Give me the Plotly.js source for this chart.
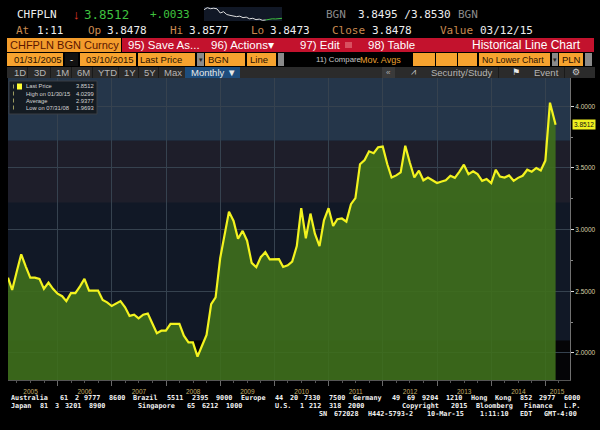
<!DOCTYPE html>
<html><head><meta charset="utf-8">
<script src="https://cdn.plot.ly/plotly-3.0.1.min.js"></script>
<style>html,body{margin:0;padding:0;background:#000;overflow:hidden}</style>
</head><body><div id="chart" style="width:600px;height:430px;"></div>
<script>
// ---------------- data ----------------
const firstYear = 2005;
const lastDate = '2015-03-10';
const prices = [
  2.61, 2.51, 2.66, 2.80, 2.70, 2.61, 2.61, 2.60, 2.52, 2.57, 2.52, 2.48,
  2.46, 2.42, 2.485, 2.485, 2.54, 2.60, 2.505, 2.505, 2.505, 2.43, 2.41, 2.38,
  2.40, 2.42, 2.37, 2.30, 2.31, 2.28, 2.31, 2.32, 2.24, 2.16, 2.18, 2.18,
  2.236, 2.236, 2.236, 2.14, 2.085, 2.085, 1.9693, 2.06, 2.146, 2.396, 2.45, 2.77,
  2.96, 3.146, 3.07, 2.926, 2.99, 2.91, 2.73, 2.695, 2.776, 2.817, 2.758, 2.762,
  2.76, 2.697, 2.71, 2.74, 2.866, 3.174, 2.93, 3.13, 2.967, 2.866, 3.076, 3.174,
  3.03, 3.084, 3.09, 3.065, 3.206, 3.255, 3.53, 3.565, 3.635, 3.62, 3.668, 3.674,
  3.53, 3.423, 3.44, 3.464, 3.68, 3.546, 3.423, 3.478, 3.40, 3.423, 3.40, 3.378,
  3.39, 3.40, 3.437, 3.42, 3.47, 3.527, 3.45, 3.473, 3.45, 3.396, 3.41, 3.378,
  3.486, 3.43, 3.423, 3.44, 3.396, 3.42, 3.437, 3.486, 3.47, 3.50, 3.48, 3.56,
  4.0299, 3.886, 3.8512
];
const yearLabels = ['2005','2006','2007','2008','2009','2010','2011','2012','2013','2014','2015'];
const yearLabelDates = ['2005-07-02','2006-07-02','2007-07-02','2008-07-02','2009-07-02','2010-07-02','2011-07-02','2012-07-02','2013-07-02','2014-07-02','2015-03-20'];
const yearStarts = ['2006-01-01','2007-01-01','2008-01-01','2009-01-01','2010-01-01','2011-01-01','2012-01-01','2013-01-01','2014-01-01','2015-01-01'];
const yTicks = [2.0, 2.5, 3.0, 3.5, 4.0];
const yMinor = [2.25, 2.75, 3.25, 3.75];
const sparkWhite = [3.8560,3.8572,3.8566,3.8569,3.8565,3.8540,3.8548,3.8531,3.8526,3.8521,3.8518,3.8521,3.8512,3.8515,3.8505,3.8508,3.8500,3.8503,3.8496,3.8498];
const sparkGreen = [3.8498,3.8503,3.8505,3.8504,3.8506,3.8508];
const legendLabels = ['Last Price','High on 01/30/15','Average','Low on 07/31/08'];
const legendValues = ['3.8512','4.0299','2.9377','1.9693'];
const lastPrice = 3.8512;

// month-end dates, last point on lastDate
const dates = prices.map((v,i)=>{
  if(i===prices.length-1) return lastDate;
  const d = new Date(Date.UTC(firstYear, i+1, 0));
  return d.toISOString().slice(0,10);
});

// ---------------- layout helpers ----------------
const W=600,H=430;
const X=p=>p/W, Y=p=>1-p/H;
const MONO='DejaVu Sans Mono, monospace';
const SANS='Liberation Sans, Arial, sans-serif';
const shapes=[], ann=[];
function rect(x0,y0,x1,y1,fill,line){
  shapes.push({type:'rect',xref:'paper',yref:'paper',x0:X(x0),x1:X(x1),y0:Y(y1),y1:Y(y0),
    fillcolor:fill,line:{width:line?1:0,color:line||fill},layer:'above'});
}
function txt(x,y,text,color,size,family,anchor,weight){
  ann.push({xref:'paper',yref:'paper',x:X(x),y:Y(y),text:text,showarrow:false,
    xanchor:anchor||'left',yanchor:'middle',font:{color:color,size:size,family:family||MONO,weight:weight||'normal'},borderpad:0});
}
const nb=s=>s.replace(/ /g,'\u00a0');

// plot background bands
[[3.72,4.5,'#25364a'],[3.22,3.72,'#1e1e2a'],[1.0,2.10,'#050507']].forEach(b=>{
  shapes.push({type:'rect',xref:'x domain',yref:'y',x0:0,x1:1,y0:b[0],y1:b[1],fillcolor:b[2],line:{width:0},layer:'below'});
});

// header row 1
const OR='#c98a50', WH='#eeeeee';
txt(16,14,'CHFPLN',WH,11);
txt(72,14,'↓','#e23a2a',13,SANS);
txt(83,14,'3.8512','#3fc23f',12.5);
txt(149,14,'+.0033','#3fc23f',11);
txt(325,14,'BGN','#8a8a8a',11);
txt(357,14,'3.8495 /3.8530',WH,11);
txt(457,14,'BGN','#8a8a8a',11);
// header row 2
txt(15,30,'At',OR,11); txt(36,30,'1:11',WH,11);
txt(87,30,'Op',OR,11); txt(106,30,'3.8478',WH,11);
txt(169,30,'Hi',OR,11); txt(188,30,'3.8577',WH,11);
txt(250,30,'Lo',OR,11); txt(269,30,'3.8473',WH,11);
txt(331,30,'Close',OR,11); txt(371,30,'3.8478',WH,11);
txt(439,30,'Value',OR,11); txt(479,30,'03/12/15',WH,11);
// row 3
rect(7,38,121,52,'#f39c2c');
txt(9,45,'CHFPLN BGN Curncy','#5a1500',11,SANS);
rect(122,38,594,52,'#c3122d');
txt(127,45,'95) Save As...','#ffffff',11.5,SANS);
txt(210,45,'96) Actions▾','#ffffff',11.5,SANS);
txt(299,45,'97) Edit','#ffffff',11.5,SANS);
rect(345,42,352,48,'#d85060');
txt(367,45,'98) Table','#ffffff',11.5,SANS);
txt(582,45,'Historical Line Chart','#ffffff',12,SANS,'right');
// row 4
const ORB='#f7a32f', DK='#2a1200';
rect(7,53,63,66,ORB); txt(13,59.5,'01/31/2005',DK,9.5,SANS);
rect(65,53,78,66,'#111111'); txt(71.5,59.5,'-','#ffffff',9.5,SANS,'center');
rect(80,53,136,66,ORB); txt(85,59.5,'03/10/2015',DK,9.5,SANS);
rect(138,53,195,66,ORB); txt(139,59.5,'Last Price',DK,9.5,SANS);
rect(197,53,204,66,'#8a8a8a'); txt(200.5,59.5,'▾','#222',7,SANS,'center');
rect(205,53,245,66,ORB); txt(207,59.5,'BGN',DK,9.5,SANS);
rect(247,53,276,66,ORB); txt(249,59.5,'Line',DK,9.5,SANS);
rect(278,53,284,66,'#8a8a8a');
txt(315,59.5,'11) Compare','#c8c8c8',7.8,SANS);
txt(359,59.5,'Mov. Avgs','#e8a030',9,SANS);
rect(413,53,435,66,ORB); rect(436,53,457,66,ORB); rect(458,53,477,66,ORB);
rect(479,53,550,66,ORB); txt(481,59.5,'No Lower Chart',DK,8.8,SANS);
rect(552,53,558,66,'#8a8a8a'); txt(555,59.5,'▾','#222',7,SANS,'center');
rect(559,53,583,66,ORB); txt(561,59.5,'PLN',DK,9.5,SANS);
rect(585,53,592,66,'#8a8a8a');
// row 5
rect(7,67,595,78,'#2b2b2b');
[['1D',13],['3D',33],['1M',55],['6M',76],['YTD',97],['1Y',123],['5Y',143],['Max',163]].forEach(b=>txt(b[1],72.5,b[0],'#b5b5b5',9.5,SANS));
[27,50,71,92,118,138,158].forEach(s=>rect(s,67,s+1,78,'#1a1a1a'));
rect(185,67,240,78,'#1d4d7d'); txt(190,72.5,'Monthly ▼','#e8e8e8',9.5,SANS);
rect(382,67,395,78,'#3a3a3a'); txt(388.5,72.5,'«','#aaaaaa',8,SANS,'center');
txt(413,72.5,'⩘','#cccccc',9,'DejaVu Sans','center');
txt(430,72.5,'Security/Study','#b5b5b5',9.5,SANS);
rect(498,67,499,78,'#1a1a1a'); rect(564,67,565,78,'#1a1a1a');
txt(516,72.5,'⚑','#e8e8e8',9,'DejaVu Sans','center');
txt(533,72.5,'Event','#b5b5b5',9.5,SANS);
txt(576,72.5,'⚙','#cccccc',9,'DejaVu Sans','center');

// legend box in plot
rect(9,81,97,114,'#141b22','#3a3f44');
rect(17,83.5,22,89.5,'#ffff33');
[86.5,93.5,100.5,107.5].forEach((yy,i)=>{
  txt(25,yy,legendLabels[i],'#d4d4d4',5.8,SANS);
  txt(95,yy,legendValues[i],'#d4d4d4',5.8,SANS,'right');
});
[[13,86.5],[13,93.5],[13,100.5],[13,107.5]].forEach(p=>rect(p[0],p[1]-2,p[0]+1,p[1]+2,'#9a9a60'));

// last price tag
ann.push({xref:'paper',yref:'y',x:X(572),y:lastPrice,text:'3.8512',showarrow:false,xanchor:'left',yanchor:'middle',
  font:{color:'#111',size:6.5,family:SANS},bgcolor:'#f0f020',borderpad:1});

// footer (segments placed on a 4.89px character grid)
const FOOT='#f2f2f2', FS=6.8, CW=4.89;
const footer = [
  [398, 0, 'Australia 61 2 9777 8600'], [398, 25, 'Brazil 5511 2395 9000'], [398, 47, 'Europe 44 20 7330 7500'],
  [398, 70, 'Germany 49 69 9204 1210'], [398, 94, 'Hong Kong 852 2977 6000'],
  [406, 0, 'Japan 81 3 3201 8900'], [406, 26, 'Singapore 65 6212 1000'], [406, 54, 'U.S. 1 212 318 2000'],
  [406, 80, 'Copyright 2015 Bloomberg Finance L.P.'],
  [414, 63, 'SN 672028 H442-5793-2 10-Mar-15'], [414, 96, '1:11:10 EDT'], [414, 109, 'GMT-4:00']
];
footer.forEach(f=>{
  const words=f[2].split(' ');
  let c=f[1];
  words.forEach(w=>{ txt(10+c*CW, f[0], w, FOOT, FS, MONO, 'left', 'bold'); c+=w.length+1; });
});

// ---------------- traces ----------------
const traces = [
  {x:dates,y:prices,type:'scatter',mode:'lines',fill:'tozeroy',fillcolor:'rgba(62,110,28,0.92)',
   line:{color:'#f3f31f',width:2.2},hoverinfo:'skip',showlegend:false},
  {x:[dates[0]],y:[null],xaxis:'x2',yaxis:'y',type:'scatter',mode:'lines',hoverinfo:'skip',showlegend:false},
  {x:sparkWhite.map((v,i)=>i),y:sparkWhite,xaxis:'x3',yaxis:'y3',type:'scatter',mode:'lines',line:{color:'#dddddd',width:1},hoverinfo:'skip',showlegend:false},
  {x:sparkGreen.map((v,i)=>i+sparkWhite.length-1),y:sparkGreen,xaxis:'x3',yaxis:'y3',type:'scatter',mode:'lines',line:{color:'#3fc23f',width:1},hoverinfo:'skip',showlegend:false}
];

const xRange=['2005-01-31','2015-06-15'];
const layout = {
  width:600,height:430,margin:{l:0,r:0,t:0,b:0},
  paper_bgcolor:'#000000',plot_bgcolor:'#111826',
  showlegend:false,
  xaxis:{type:'date',domain:[X(8),X(570)],range:xRange,anchor:'y',tickmode:'array',tickvals:yearStarts,
    showticklabels:false,ticks:'outside',ticklen:5,tickcolor:'#6a6a6a',showgrid:true,gridcolor:'#36424f',gridwidth:1,
    showline:true,linecolor:'#555555',zeroline:false,
    minor:{tickmode:'linear',tick0:'2005-01-01',dtick:'M3',ticks:'outside',ticklen:2,tickcolor:'#555555',showgrid:false}},
  xaxis2:{type:'date',overlaying:'x',anchor:'y',side:'bottom',range:xRange,tickmode:'array',tickvals:yearLabelDates,ticktext:yearLabels,
    ticks:'',ticklabelstandoff:6,showgrid:false,showline:false,zeroline:false,tickfont:{size:6.5,color:'#c2ad68',family:SANS}},
  yaxis:{domain:[Y(380),Y(78)],range:[1.78,4.23],side:'right',anchor:'x',tickmode:'array',tickvals:yTicks,tickformat:'.4f',
    ticks:'outside',ticklen:3,tickcolor:'#dddddd',tickfont:{size:6.5,color:'#d8d0a6',family:SANS},
    showgrid:true,gridcolor:'#36424f',showline:true,linecolor:'#707070',zeroline:false,
    minor:{tickmode:'array',tickvals:yMinor,ticks:'outside',ticklen:2,tickcolor:'#888888',showgrid:false}},
  xaxis3:{domain:[X(204),X(282)],anchor:'y3',visible:false,fixedrange:true},
  yaxis3:{domain:[Y(21),Y(7)],anchor:'x3',visible:false,fixedrange:true},
  shapes:shapes,annotations:ann
};
Plotly.newPlot('chart',traces,layout,{staticPlot:true,displayModeBar:false});
</script>
</body></html>
